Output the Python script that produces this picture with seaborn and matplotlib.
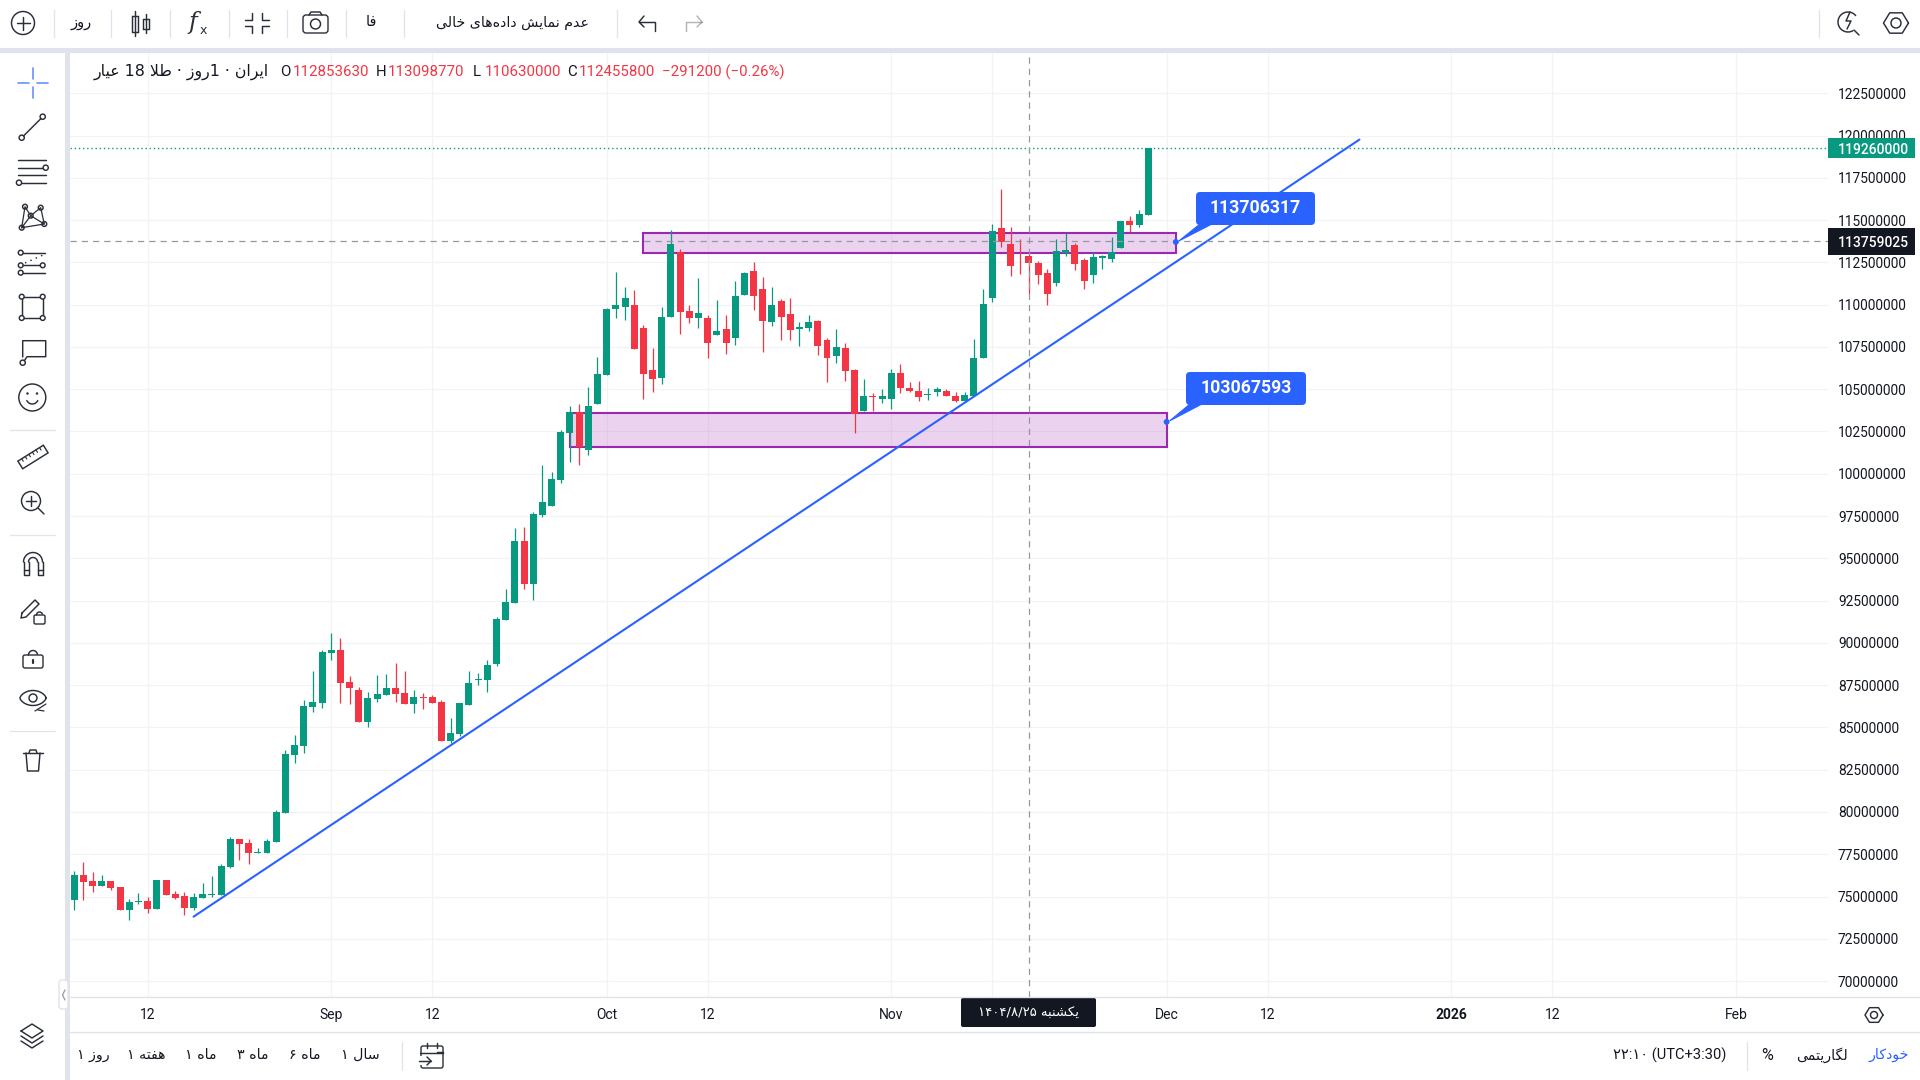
import re

import matplotlib
matplotlib.use("Agg")
import matplotlib.pyplot as plt
import numpy as np
import pandas as pd
import seaborn as sns
from matplotlib.patches import Circle, FancyBboxPatch, Polygon, Rectangle

# Daily 18K gold candles, prices in millions of rials
first_day = "2025-08-04"
opens = [74.80, 76.27, 75.92, 75.62, 75.92, 75.57, 74.20, 74.68, 74.74, 74.26, 75.98, 75.15, 75.03, 74.32, 74.91,
         75.09, 75.09, 76.75, 78.40, 78.17, 77.58, 77.58, 78.23, 79.94, 83.37, 83.90, 86.21, 86.44, 89.40, 89.58,
         87.69, 87.21, 85.32, 86.68, 86.92, 87.33, 87.04, 86.39, 86.80, 86.80, 86.50, 84.20, 84.61, 86.33, 87.80,
         87.80, 88.75, 91.35, 92.36, 96.03, 93.48, 97.56, 98.10, 99.63, 102.41, 103.65, 101.41, 104.13, 105.84,
         109.75, 109.86, 109.98, 108.62, 106.14, 105.67, 109.27, 113.12, 109.63, 109.21, 109.21, 108.21, 108.56,
         108.03, 110.57, 111.99, 110.93, 108.98, 110.22, 109.45, 108.56, 108.62, 109.04, 107.91, 106.97, 107.44,
         106.14, 103.71, 104.60, 104.42, 104.42, 105.96, 105.07, 104.90, 104.66, 104.84, 104.90, 104.60, 104.30,
         104.60, 106.85, 110.39, 114.53, 113.59, 112.76, 112.85363, 112.46, 111.87, 111.28, 113.06, 113.53, 112.64,
         111.75, 112.76, 112.70, 113.35, 114.95, 114.71, 115.30]
highs = [76.51, 77.04, 76.45, 76.27, 75.92, 75.57, 74.86, 75.21, 74.97, 75.98, 75.98, 75.33, 75.27, 75.21, 75.80,
         76.22, 76.92, 78.52, 78.40, 78.40, 77.87, 78.40, 80.12, 83.67, 84.55, 86.62, 88.34, 89.58, 90.58, 90.29,
         88.04, 87.39, 87.10, 88.10, 88.16, 88.81, 88.34, 87.21, 87.04, 86.92, 86.62, 85.56, 86.44, 88.34, 88.22,
         88.99, 91.53, 93.19, 96.79, 96.85, 97.74, 100.52, 100.10, 102.59, 104.00, 104.13, 105.13, 106.91, 109.81,
         111.93, 111.05, 110.87, 108.80, 107.44, 109.86, 114.42, 113.29, 109.98, 111.58, 109.39, 110.28, 109.39,
         111.40, 111.93, 112.53, 111.64, 111.05, 110.34, 110.40, 108.98, 109.39, 109.10, 108.03, 108.56, 107.74,
         106.20, 105.61, 104.78, 105.02, 106.20, 106.49, 105.43, 105.49, 105.07, 105.13, 105.02, 104.84, 104.83,
         107.97, 110.93, 114.77, 116.84, 114.59, 113.88, 113.09877, 112.58, 112.11, 113.88, 114.24, 113.65, 112.76,
         113.11, 112.94, 114.00, 114.95, 115.24, 115.60, 119.26]
lows = [74.20, 74.80, 75.27, 75.62, 75.39, 74.20, 73.61, 74.56, 74.03, 74.26, 75.09, 74.86, 73.91, 74.20, 74.91,
        74.97, 75.09, 76.69, 77.16, 76.92, 77.58, 77.58, 78.23, 79.94, 82.90, 83.49, 85.91, 86.15, 88.98, 86.44,
        86.39, 85.32, 85.03, 86.50, 86.92, 86.50, 86.39, 85.85, 86.09, 86.44, 84.20, 84.08, 84.49, 86.33, 87.51,
        87.10, 88.63, 91.35, 92.36, 93.19, 92.54, 97.44, 98.10, 99.45, 100.70, 100.52, 101.11, 104.13, 105.84,
        109.21, 109.10, 107.38, 104.42, 104.84, 105.31, 109.27, 108.27, 108.92, 108.62, 106.85, 108.21, 107.09,
        107.62, 110.57, 109.69, 107.20, 108.74, 107.91, 107.91, 107.56, 108.45, 107.03, 105.43, 106.55, 105.49,
        102.41, 103.71, 103.71, 104.19, 103.83, 104.78, 104.84, 104.31, 104.37, 104.60, 104.60, 104.25, 104.30,
        104.60, 106.85, 110.16, 113.41, 111.70, 111.81, 110.63, 111.22, 109.98, 111.10, 112.88, 112.05, 110.93,
        111.28, 112.11, 112.52, 113.35, 114.30, 114.59, 115.30]
closes = [76.27, 75.86, 75.62, 75.92, 75.51, 74.20, 74.68, 74.74, 74.26, 75.98, 75.09, 74.91, 74.32, 74.97, 75.15,
          75.15, 76.81, 78.40, 78.11, 77.58, 77.63, 78.28, 80.00, 83.43, 83.96, 86.27, 86.50, 89.46, 89.58, 87.63,
          87.33, 85.32, 86.74, 86.98, 87.33, 86.98, 86.39, 86.80, 86.74, 86.44, 84.20, 84.67, 86.44, 87.63, 87.86,
          88.69, 91.41, 92.42, 96.03, 93.48, 97.62, 98.33, 99.69, 102.47, 103.65, 101.58, 104.00, 105.90, 109.75,
          109.98, 110.40, 107.38, 105.90, 105.61, 109.27, 113.59, 109.57, 109.21, 109.51, 107.74, 108.45, 107.74,
          110.51, 111.87, 110.51, 109.04, 109.98, 109.27, 108.50, 108.68, 108.98, 107.56, 106.85, 107.50, 106.08,
          103.54, 104.60, 104.54, 104.60, 105.96, 105.07, 104.90, 104.54, 104.72, 105.02, 104.60, 104.31, 104.66,
          106.84, 110.04, 114.36, 113.71, 112.29, 112.747, 112.4558, 111.75, 110.63, 113.17, 113.23, 112.41, 111.40,
          112.82, 112.88, 113.11, 114.95, 114.71, 115.36, 119.26]

# Drawings placed on the chart
trend_days = ["2025-08-17", "2025-12-22"]
trend_prices = [73.81, 119.76]
upper_zone_days = ["2025-10-05", "2025-12-02"]
upper_zone_prices = [113.06, 114.22]
lower_zone_days = ["2025-09-27", "2025-12-01"]
lower_zone_prices = [101.59, 103.62]
callout_days = ["2025-12-02", "2025-12-01"]
callout_prices = [113.706317, 103.067593]

last_price = 119.26
cursor_price = 113.759025
cursor_day = "2025-11-16"
cursor_index = 104

price_ticks = [70 + 2.5 * k for k in range(22)]
time_tick_days = ["2025-08-12", "2025-09-01", "2025-09-12", "2025-10-01", "2025-10-12", "2025-11-01", "2025-11-12",
                  "2025-12-01", "2025-12-12", "2026-01-01", "2026-01-12", "2026-02-01"]
time_tick_labels = ["12", "Sep", "12", "Oct", "12", "Nov", "12", "Dec", "12", "2026", "12", "Feb"]

# Colours of the light trading-terminal theme
UP = "#089981"
DOWN = "#f23645"
BLUE = "#2962ff"
PURPLE = "#9c27b0"
INK = "#131722"
ICON = "#2a2e39"
RULE = "#e0e3eb"
GRID = "#f2f3f5"
CURSOR = "#9598a1"

LATIN = "Roboto"
PERSIAN = "DejaVu Sans"

# Contextual letter forms: isolated, final, initial, medial
FORMS = {
    "ا": "\ufe8d\ufe8e", "ب": "\ufe8f\ufe90\ufe91\ufe92", "ت": "\ufe95\ufe96\ufe97\ufe98",
    "خ": "\ufea5\ufea6\ufea7\ufea8", "د": "\ufea9\ufeaa", "ر": "\ufead\ufeae", "ز": "\ufeaf\ufeb0",
    "س": "\ufeb1\ufeb2\ufeb3\ufeb4", "ش": "\ufeb5\ufeb6\ufeb7\ufeb8", "ط": "\ufec1\ufec2\ufec3\ufec4",
    "ع": "\ufec9\ufeca\ufecb\ufecc", "ف": "\ufed1\ufed2\ufed3\ufed4", "ک": "\ufb8e\ufb8f\ufb90\ufb91",
    "گ": "\ufb92\ufb93\ufb94\ufb95", "ل": "\ufedd\ufede\ufedf\ufee0", "م": "\ufee1\ufee2\ufee3\ufee4",
    "ن": "\ufee5\ufee6\ufee7\ufee8", "ه": "\ufee9\ufeea\ufeeb\ufeec", "و": "\ufeed\ufeee",
    "ی": "\ufbfc\ufbfd\ufbfe\ufbff",
}


def rtl(text):
    """Shape Persian letters and lay the string out in display order."""
    text = text.replace("لا", "\ufefb")
    shaped = []
    for i, ch in enumerate(text):
        prev = text[i - 1] if i else ""
        nxt = text[i + 1] if i + 1 < len(text) else ""
        if ch == "\ufefb":
            joined = prev in FORMS and len(FORMS[prev]) == 4
            shaped.append("\ufefc" if joined else ch)
            continue
        if ch == "\u200c":
            continue
        if ch not in FORMS:
            shaped.append(ch)
            continue
        forms = FORMS[ch]
        after = prev in FORMS and len(FORMS[prev]) == 4
        before = len(forms) == 4 and (nxt in FORMS or nxt == "\ufefb")
        if after and before:
            shaped.append(forms[3])
        elif before:
            shaped.append(forms[2])
        elif after:
            shaped.append(forms[1])
        else:
            shaped.append(forms[0])
    parts = re.split(r"([0-9۰-۹/:]+)", "".join(shaped))
    return "".join(p if re.fullmatch(r"[0-9۰-۹/:]+", p) else p[::-1] for p in reversed(parts))


sns.set_theme(style="whitegrid", rc={
    "axes.edgecolor": "white", "grid.color": GRID, "grid.linewidth": 0.9,
    "figure.facecolor": "white", "axes.facecolor": "white",
})
plt.rcParams["font.family"] = [LATIN, PERSIAN]

candles = pd.DataFrame({
    "day": pd.date_range(first_day, periods=len(opens), freq="D"),
    "open": opens, "high": highs, "low": lows, "close": closes,
})
for column in ["open", "high", "low", "close"]:
    candles[column] = candles[column] * 1e6
candles["colour"] = np.where(candles["close"] >= candles["open"], UP, DOWN)

fig = plt.figure(figsize=(19.2, 10.8), dpi=100)
# Chart pane spans x 70..1828 and y 53..997 of the 1920x1080 canvas
ax = fig.add_axes([70 / 1920, 1 - 997 / 1080, (1828 - 70) / 1920, (997 - 53) / 1080])
ax.set_axisbelow(True)

origin = pd.Timestamp("2025-09-01")
ax.set_xlim(origin + pd.Timedelta(days=-28.46), origin + pd.Timedelta(days=163.04))
ax.set_ylim(69.06e6, 124.88e6)


def zone(days, prices):
    x0, x1 = [matplotlib.dates.date2num(pd.Timestamp(d)) for d in days]
    ax.add_patch(Rectangle((x0, prices[0] * 1e6), x1 - x0, (prices[1] - prices[0]) * 1e6,
                           facecolor=PURPLE, alpha=0.2, edgecolor="none", zorder=1))
    ax.add_patch(Rectangle((x0, prices[0] * 1e6), x1 - x0, (prices[1] - prices[0]) * 1e6,
                           facecolor="none", edgecolor=PURPLE, linewidth=1.5, zorder=1.2))


zone(upper_zone_days, upper_zone_prices)
zone(lower_zone_days, lower_zone_prices)

ax.vlines(candles["day"], candles["low"], candles["high"], colors=candles["colour"], linewidth=0.9, zorder=2)
ax.bar(candles["day"], (candles["close"] - candles["open"]).abs(),
       bottom=candles[["open", "close"]].min(axis=1), width=0.76, color=candles["colour"], linewidth=0, zorder=2.2)

sns.lineplot(x=pd.to_datetime(trend_days), y=np.array(trend_prices) * 1e6, ax=ax, color=BLUE, linewidth=1.5,
             legend=False, estimator=None, zorder=3)

# Last-price and cursor guides
ax.axhline(last_price * 1e6, color=UP, linewidth=1, linestyle=(0, (1, 2)), zorder=3.2)
ax.axhline(cursor_price * 1e6, color=CURSOR, linewidth=0.9, linestyle=(0, (5, 4)), zorder=3.3)
ax.axvline(pd.Timestamp(cursor_day), color=CURSOR, linewidth=0.9, linestyle=(0, (5, 4)), zorder=3.3)

ax.set_xticks(pd.to_datetime(time_tick_days))
ax.set_xticklabels(time_tick_labels, fontsize=10, color=INK, family=LATIN)
ax.get_xticklabels()[9].set_fontweight("bold")
ax.set_yticks([p * 1e6 for p in price_ticks])
ax.set_yticklabels([str(int(p * 1e6)) for p in price_ticks], fontsize=9.9, color=INK, family=LATIN)
ax.yaxis.tick_right()
ax.tick_params(axis="x", length=0, pad=8)
ax.tick_params(axis="y", length=0, pad=7.2)
ax.set_xlabel("")
ax.set_ylabel("")
sns.despine(ax=ax, left=True, bottom=True, right=True, top=True)
ax.grid(True, axis="both")
for side in ax.spines.values():
    side.set_visible(False)

# Price tags on the right-hand scale, sitting on the value they state
axis_tf = ax.get_yaxis_transform()
for value, height, colour in [(last_price, 1.22, UP), (cursor_price, 1.6, INK)]:
    ax.add_patch(Rectangle((1.0, (value - height / 2) * 1e6), 87 / 1758, height * 1e6, transform=axis_tf,
                           facecolor=colour, edgecolor="none", clip_on=False, zorder=10))
    ax.text(1 + 10 / 1758, value * 1e6, str(int(round(value * 1e6))), transform=axis_tf, color="white",
            fontsize=10, fontweight="medium", va="center_baseline", ha="left", family=LATIN, zorder=11, clip_on=False)

# Overlay in canvas pixels for the terminal's toolbars and tool icons
ov = fig.add_axes([0, 0, 1, 1], zorder=5)
ov.set_xlim(0, 1920)
ov.set_ylim(1080, 0)
ov.axis("off")
ov.patch.set_alpha(0)


def seg(xs, ys, color=ICON, lw=1.05, **kw):
    ov.plot(xs, ys, color=color, lw=lw, solid_capstyle="round", solid_joinstyle="round", **kw)


def ring(x, y, r, color=ICON, lw=1.05, fill="none"):
    ov.add_patch(Circle((x, y), r, facecolor=fill, edgecolor=color, linewidth=lw))


def arc(x, y, r, a0, a1, color=ICON, lw=1.05):
    t = np.radians(np.linspace(a0, a1, 40))
    seg(x + r * np.cos(t), y + r * np.sin(t), color=color, lw=lw)


def fa(x, y, text, size=10.5, color=INK, ha="center"):
    ov.text(x, y, rtl(text), fontsize=size, color=color, ha=ha, va="center", family=PERSIAN)


def la(x, y, text, size=10.8, color=INK, ha="left", weight="normal"):
    ov.text(x, y, text, fontsize=size, color=color, ha=ha, va="center", family=LATIN, fontweight=weight)


def rounded(x0, y0, x1, y1, r, face="white", edge="none", lw=1.0):
    ov.add_patch(FancyBboxPatch((x0 + r, y0 + r), x1 - x0 - 2 * r, y1 - y0 - 2 * r,
                                boxstyle=f"round,pad={r},rounding_size={r}", facecolor=face, edgecolor=edge,
                                linewidth=lw))


def hexagon(x, y, r, hole):
    t = np.radians(np.arange(0, 361, 60))
    seg(x + r * np.cos(t), y + r * 0.94 * np.sin(t))
    ring(x, y, hole)


# Frame bands around the pane
ov.add_patch(Rectangle((0, 48), 1920, 5, facecolor=RULE, edgecolor="none"))
ov.add_patch(Rectangle((65, 53), 5, 1027, facecolor=RULE, edgecolor="none"))
seg([70, 1920], [997, 997], color=RULE, lw=1)
seg([70, 1920], [1031.5, 1031.5], color=RULE, lw=1)

# Top toolbar
ring(23, 23, 11.5)
seg([16.5, 29.5], [23, 23])
seg([23, 23], [16.5, 29.5])
fa(81, 23, "روز", 10.5)
for x in [54, 111, 170, 229, 287, 346, 404, 617]:
    seg([x, x], [10, 37], color=RULE, lw=0.9)
seg([135, 135], [11, 36])
ov.add_patch(Rectangle((132, 16), 6, 16, facecolor="white", edgecolor=ICON, linewidth=1.05))
seg([146, 146], [14, 33])
ov.add_patch(Rectangle((143, 19), 6, 10, facecolor="white", edgecolor=ICON, linewidth=1.05))
ov.text(193, 23, "f", fontsize=17, style="italic", family="DejaVu Serif", color=ICON, ha="center", va="center")
ov.text(203, 30, "x", fontsize=9, family="DejaVu Sans", color=ICON, ha="center", va="center")
for sx in (-1, 1):
    for sy in (-1, 1):
        seg([257 + sx * 12, 257 + sx * 5, 257 + sx * 5], [23 + sy * 3, 23 + sy * 3, 23 + sy * 10], lw=1.05)
rounded(303, 15, 328, 33, 3, face="none", edge=ICON)
seg([309, 311, 320, 322], [15, 12, 12, 15])
ring(315.5, 24, 5)
fa(371, 22, "فا", 10.5)
fa(513, 23, "عدم نمایش داده\u200cهای خالی", 10.2)
seg([639, 655, 655], [22, 22, 31], lw=1.05)
seg([644, 639, 644], [16, 22, 27], lw=1.05)
seg([702, 686, 686], [22, 22, 31], lw=1.05, alpha=0.35)
seg([697, 702, 697], [16, 22, 27], lw=1.05, alpha=0.35)
seg([1819, 1819], [10, 37], color=RULE, lw=0.9)
arc(1848, 22, 10, 60, 320)
seg([1854, 1859], [30, 35])
seg([1850, 1846, 1851, 1847], [12, 21, 21, 29])
hexagon(1896, 23, 12.5, 5)

# Header line with the cursor candle's values
cursor_open = opens[cursor_index]
cursor_high = highs[cursor_index]
cursor_low = lows[cursor_index]
cursor_close = closes[cursor_index]
previous_close = closes[cursor_index - 1]
change = cursor_close - previous_close
ov.add_patch(Rectangle((70, 56), 740, 30, facecolor="white", edgecolor="none", alpha=0.0))
ov.text(269, 72, rtl("ایران · 1روز · طلا 18 عیار"), fontsize=11.3, color=INK, ha="right", va="center",
        family=[PERSIAN])
head_items = [(280, "O", INK), (292.6, str(int(round(cursor_open * 1e6))), DOWN),
              (376, "H", INK), (388, str(int(round(cursor_high * 1e6))), DOWN),
              (473, "L", INK), (485, str(int(round(cursor_low * 1e6))), DOWN),
              (567, "C", INK), (579, str(int(round(cursor_close * 1e6))), DOWN),
              (662, f"\u2212{abs(round(change * 1e6)):.0f} (\u2212{abs(change) / previous_close * 100:.2f}%)", DOWN)]
for x, text, colour in head_items:
    la(x, 72.5, text, size=10.8, color=colour)

# Left tool column
seg([18, 29], [82.7, 82.7], color=BLUE, lw=1.2, alpha=0.7)
seg([37, 48], [82.7, 82.7], color=BLUE, lw=1.2, alpha=0.7)
seg([33, 33], [68, 79], color=BLUE, lw=1.2, alpha=0.7)
seg([33, 33], [87, 98], color=BLUE, lw=1.2, alpha=0.7)
seg([23.5, 41], [136, 118.5])
ring(21.7, 137.7, 2.6)
ring(42.7, 116.7, 2.6)
seg([18, 46], [160, 160])
seg([18, 43], [167.7, 167.7])
ring(45.7, 167.7, 2.6)
seg([18, 46], [175, 175])
seg([22, 46], [182.7, 182.7])
ring(19, 182.7, 2.6)
xabcd_x = [21.7, 25, 30.7, 40.7, 44.3]
xabcd_y = [227.7, 206.7, 215.7, 207.7, 224]
seg(xabcd_x + [21.7], xabcd_y + [227.7], lw=0.9)
seg([30.7, 21.7], [215.7, 227.7], lw=0.9)
seg([30.7, 44.3], [215.7, 224], lw=0.9)
for x, y in zip(xabcd_x, xabcd_y):
    ring(x, y, 2.4, fill="white")
seg([23, 45], [252.7, 252.7])
ring(20.7, 252.7, 2.4)
seg([23, 40], [265.3, 265.3])
ring(20.7, 265.3, 2.4)
ring(42.7, 265.3, 2.4)
seg([23, 45], [272.7, 272.7])
ring(20.7, 272.7, 2.4)
seg([25, 43], [263, 255], linestyle=(0, (1, 3)))
ov.add_patch(Rectangle((21.7, 296.7), 21, 21.3, facecolor="none", edgecolor=ICON, linewidth=1.05))
for x, y in [(21.7, 296.7), (42.7, 296.7), (21.7, 318), (42.7, 318)]:
    ring(x, y, 2.4, fill="white")
seg([22.7, 22.7, 45.7, 45.7, 27, 24.5], [357, 340.7, 340.7, 356.7, 356.7, 360.5])
ring(22.7, 362.7, 2.6)
ring(32.3, 397.5, 13.5)
ring(27.5, 393.5, 0.5, fill=ICON)
ring(37, 393.5, 0.5, fill=ICON)
arc(32.3, 398, 6, 25, 155)
for y in [430, 535, 731]:
    seg([10, 55], [y, y], color=RULE, lw=0.9)
angle = np.radians(-32)
ruler_u = np.array([np.cos(angle), np.sin(angle)])
ruler_v = np.array([-np.sin(angle), np.cos(angle)])
centre = np.array([33.0, 457.0])
corners = [centre + a * 15 * ruler_u + b * 4.5 * ruler_v for a, b in [(-1, -1), (1, -1), (1, 1), (-1, 1)]]
ov.add_patch(Polygon(corners, closed=True, facecolor="none", edgecolor=ICON, linewidth=1.05))
for f in np.linspace(-0.7, 0.7, 6):
    p0 = centre + f * 15 * ruler_u - 4.5 * ruler_v
    p1 = p0 + 3 * ruler_v
    seg([p0[0], p1[0]], [p0[1], p1[1]], lw=0.8)
ring(31, 501, 9.5)
seg([26, 36], [501, 501])
seg([31, 31], [496, 506])
seg([38, 44], [508, 514])
arc(33, 562, 9.5, 180, 360)
arc(33, 562, 4.5, 180, 360)
seg([23.5, 23.5, 28.5, 28.5], [562, 575, 575, 562])
seg([37.5, 37.5, 42.5, 42.5], [562, 575, 575, 562])
seg([23.5, 28.5], [570, 570])
seg([37.5, 42.5], [570, 570])
seg([22, 35, 39, 26, 21, 22], [613, 600, 604, 617, 618, 613])
rounded(34, 615, 45, 624, 1.5, face="white", edge=ICON)
arc(39.5, 615, 3, 180, 340)
rounded(23, 655, 43, 668, 2, face="none", edge=ICON)
arc(33, 655, 4.5, 180, 350)
seg([33, 33], [660, 663], lw=1.6)
t_eye = np.radians(np.linspace(0, 360, 60))
seg(33 + 13 * np.cos(t_eye), 698 - 7.5 * np.sin(t_eye) * np.abs(np.sin(t_eye)) ** 0.3)
ring(33, 698, 4)
seg([35, 46], [711, 704], lw=0.9)
seg([38, 44], [710, 711], lw=0.9)
seg([23, 43], [753, 753])
seg([26, 27.5, 38.5, 40], [753, 771, 771, 753])
seg([29, 30, 36, 37], [753, 750, 750, 753])
for offset in [0, 5, 10]:
    seg([21, 32, 43, 32, 21] if offset == 0 else [21, 32, 43], ([1031, 1024, 1031, 1038, 1031] if offset == 0
        else [1031 + offset, 1038 + offset, 1031 + offset]))
rounded(59, 980, 68, 1009, 3, face="white", edge=RULE)
seg([65, 62.5, 65], [990, 995, 1000], color=CURSOR, lw=0.9)

# Bottom toolbar
for x, text in [(93, "روز ۱"), (146, "هفته ۱"), (201, "ماه ۱"), (253, "ماه ۳"), (305, "ماه ۶"), (360, "سال ۱")]:
    fa(x, 1055, text, 10.2)
seg([402, 402], [1042, 1070], color=RULE, lw=0.9)
seg([420, 443, 443, 437], [1053, 1053, 1052, 1052])
rounded(421, 1046, 443, 1068, 2, face="none", edge=ICON)
seg([427, 427], [1043, 1048])
seg([437, 437], [1043, 1048])
ov.add_patch(Rectangle((418, 1056), 14, 9, facecolor="white", edgecolor="none"))
seg([419, 431], [1061, 1061])
seg([427, 431, 427], [1057, 1061, 1065])
hexagon(1874, 1015, 9, 3.5)

fa(1889, 1055, "خودکار", 10.2, color=BLUE)
fa(1822, 1055, "لگاریتمی", 10.2)
la(1761, 1056, "%", size=11.5)
seg([1747, 1747], [1042, 1070], color=RULE, lw=0.9)
ov.text(1670, 1055, "۲۲:۱۰ (UTC+3:30)", fontsize=10.5, color=INK, ha="center", va="center",
        family=[LATIN, PERSIAN])

# Date tag on the cursor line
rounded(961, 998, 1096, 1027, 2, face=INK)
ov.text(1028.5, 1013, rtl("یکشنبه ۱۴۰۴/۸/۲۵"), fontsize=9.5, color="white", ha="center", va="center",
        family=[PERSIAN])

# Price callouts attached to their anchor points on the chart
pixel_of = ax.transData
for day, price, box in zip(callout_days, callout_prices, [(1196, 192, 1315, 225), (1186, 372, 1306, 405)]):
    xp, yp = pixel_of.transform((matplotlib.dates.date2num(pd.Timestamp(day)), price * 1e6))
    xp, yp = xp * 1920 / fig.bbox.width, 1080 - yp * 1080 / fig.bbox.height
    x0, y0, x1, y1 = box
    ov.add_patch(Polygon([(x0 + 4, y1 - 1), (x0 + 16, y1 - 1), (xp + 3, yp - 1)], closed=True, facecolor=BLUE,
                         edgecolor=BLUE, linewidth=0.8))
    ring(xp, yp, 2.2, color=BLUE, fill=BLUE)
    rounded(x0, y0, x1, y1, 4, face=BLUE)
    la((x0 + x1) / 2, (y0 + y1) / 2 - 0.5, str(int(round(price * 1e6))), size=12.7, color="white", ha="center",
       weight="bold")

fig.savefig("out.png", dpi=100)
